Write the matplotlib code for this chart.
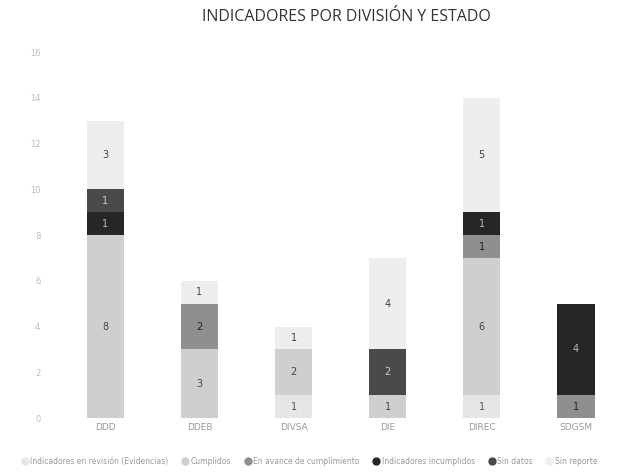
import numpy as np
import matplotlib.pyplot as plt
from matplotlib.lines import Line2D

plt.rc('font', family='DejaVu Sans')

# Datos del gráfico
divisiones = ['DDD', 'DDEB', 'DIVSA', 'DIE', 'DIREC', 'SDGSM']
series = ['Indicadores en revisión (Evidencias)', 'Cumplidos',
          'En avance de cumplimiento', 'Indicadores incumplidos',
          'Sin datos', 'Sin reporte']
sin_evidencia = [0, 0, 1, 0, 1, 0]
cumplidos = [8, 3, 2, 1, 6, 0]
en_avance = [0, 2, 0, 0, 1, 1]
incumplidos = [1, 0, 0, 0, 1, 4]
sin_datos = [1, 0, 0, 2, 0, 0]
sin_reporte = [3, 1, 1, 4, 5, 0]

valores = [sin_evidencia, cumplidos, en_avance, incumplidos, sin_datos, sin_reporte]
colores = ['#e6e6e6', '#cfcfcf', '#8f8f8f', '#262626', '#4a4a4a', '#eeeeee']
colores_texto = ['#555555', '#444444', '#222222', '#bbbbbb', '#cccccc', '#444444']

fig = plt.figure(figsize=(6.19, 4.73), dpi=100)
ax = fig.add_axes([0.073, 0.116, 0.927, 0.774])

x = np.arange(len(divisiones))
base = np.zeros(len(divisiones))
for nombre, v, c, ct in zip(series, valores, colores, colores_texto):
    v = np.array(v, dtype=float)
    ax.bar(x, v, bottom=base, width=0.4, color=c, label=nombre)
    for xi, vi, bi in zip(x, v, base):
        if vi > 0:
            ax.text(xi, bi + vi / 2, f'{int(vi)}', ha='center', va='center',
                    fontsize=7, color=ct)
    base += v

ax.set_ylim(0, 16)
ax.set_xlim(-0.64, 5.46)
ax.set_yticks(range(0, 17, 2))
ax.set_xticks(x)
ax.set_xticklabels(divisiones, fontsize=6.5, color='#999999')
ax.tick_params(axis='y', labelsize=6, colors='#bbbbbb', length=0)
ax.tick_params(axis='x', length=0)
for s in ax.spines.values():
    s.set_visible(False)

fig.text(0.56, 0.965, 'INDICADORES POR DIVISIÓN Y ESTADO', ha='center', va='center',
         fontsize=11.5, color='#333333', fontfamily='Open Sans')

handles = [Line2D([], [], marker='o', linestyle='none', markersize=5,
                  markerfacecolor=c, markeredgecolor=c) for c in colores]
fig.legend(handles, series, loc='center', bbox_to_anchor=(0.5, 0.025), ncol=6,
           frameon=False, fontsize=5.5, labelcolor='#999999', handlelength=0.8,
           columnspacing=1.8, handletextpad=0.3)

plt.savefig('out.png', dpi=100)
